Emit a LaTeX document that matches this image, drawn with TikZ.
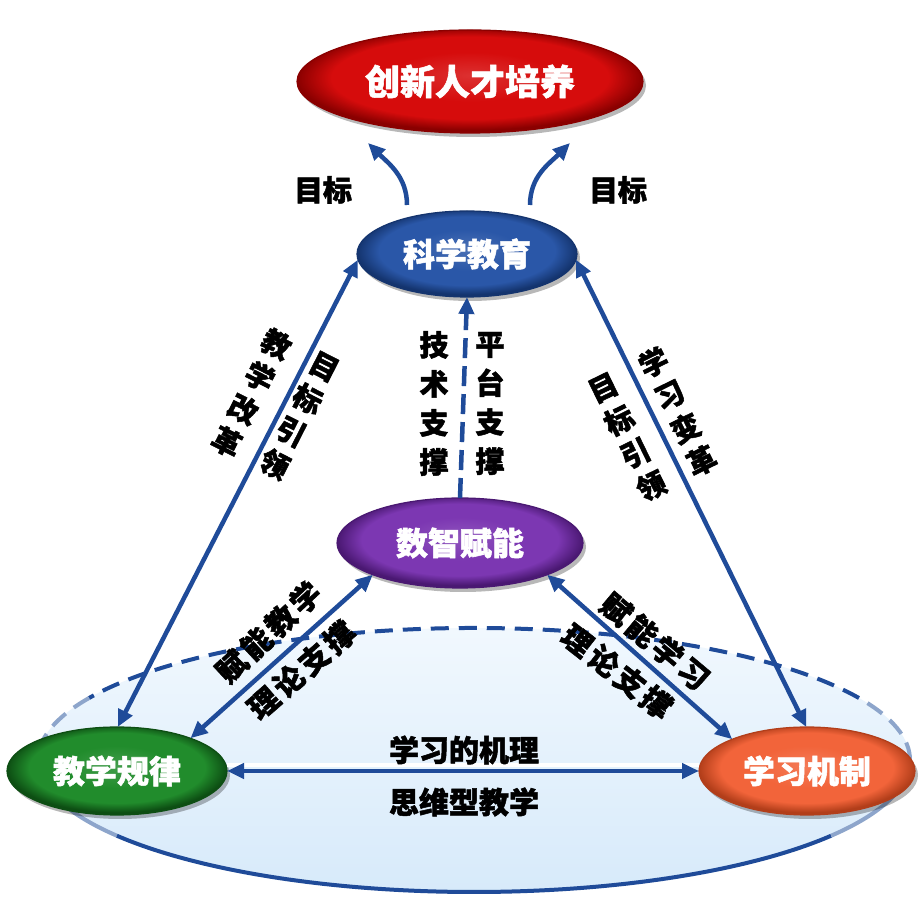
\documentclass[tikz,border=0pt]{standalone}
\usepackage{fontspec}
\setmainfont{Noto Sans CJK SC}[BoldFeatures={FakeBold=1.6}]
\usetikzlibrary{arrows.meta,shapes.geometric,shadows}

\definecolor{redM}{HTML}{D60C0C}
\definecolor{redD}{HTML}{8A0000}
\definecolor{blueM}{HTML}{2A57A8}
\definecolor{blueD}{HTML}{14346E}
\definecolor{purM}{HTML}{7C37B2}
\definecolor{purD}{HTML}{4A1872}
\definecolor{grnM}{HTML}{218C2C}
\definecolor{grnD}{HTML}{0D4E13}
\definecolor{orgM}{HTML}{F2643A}
\definecolor{orgD}{HTML}{B23E1A}
\definecolor{arrC}{HTML}{1F4B99}
\definecolor{rimL}{HTML}{8DA5CB}
\definecolor{baseT}{HTML}{F1F8FE}
\definecolor{baseB}{HTML}{D7EAFA}

\pgfdeclareradialshading{shRed}{\pgfpoint{0bp}{3bp}}{color(0bp)=(redM!85!white); color(12bp)=(redM); color(20bp)=(redM); color(25bp)=(redD); color(50bp)=(redD)}
\pgfdeclareradialshading{shBlue}{\pgfpoint{0bp}{3bp}}{color(0bp)=(blueM!85!white); color(12bp)=(blueM); color(20bp)=(blueM); color(25bp)=(blueD); color(50bp)=(blueD)}
\pgfdeclareradialshading{shPur}{\pgfpoint{0bp}{3bp}}{color(0bp)=(purM!85!white); color(12bp)=(purM); color(20bp)=(purM); color(25bp)=(purD); color(50bp)=(purD)}
\pgfdeclareradialshading{shGrn}{\pgfpoint{0bp}{3bp}}{color(0bp)=(grnM!85!white); color(12bp)=(grnM); color(20bp)=(grnM); color(25bp)=(grnD); color(50bp)=(grnD)}
\pgfdeclareradialshading{shOrg}{\pgfpoint{0bp}{3bp}}{color(0bp)=(orgM!85!white); color(12bp)=(orgM); color(20bp)=(orgM); color(25bp)=(orgD); color(50bp)=(orgD)}

\newcommand\lsp{\hspace{3.5pt}}

\tikzset{
  oval/.style={ellipse, inner sep=0pt, outer sep=0pt, text=white, line width=1.2pt,
    font=\bfseries\fontsize{32}{38}\selectfont,
    drop shadow={shadow xshift=3pt, shadow yshift=-4pt, fill=black, opacity=0.28}},
  myhead/.tip={Triangle[length=17pt,width=15pt]},
  conn/.style={draw=arrC, line width=4.5pt, myhead-myhead},
  sconn/.style={draw=arrC, line width=4.5pt, -myhead},
  dconn/.style={draw=arrC, line width=4.5pt, -myhead, dash pattern=on 20pt off 8pt},
  lab/.style={font=\bfseries\fontsize{29}{36}\selectfont, text=black, inner sep=0pt, align=center},
  collab/.style={font=\bfseries\fontsize{29}{39}\selectfont, text=black, inner sep=0pt, align=center},
  col2/.style={font=\bfseries\fontsize{29}{36.5}\selectfont, text=black, inner sep=0pt, align=center},
  dlab/.style={font=\bfseries\fontsize{30}{36}\selectfont, text=black, inner sep=0pt},
  rimdash/.style={line width=4pt, dash pattern=on 18pt off 10pt},
}

\begin{document}
\begin{tikzpicture}[x=1pt,y=1pt]
\useasboundingbox (0,0) rectangle (924,902);
\fill[white] (0,0) rectangle (924,902);

% base ellipse
\path[top color=baseT, bottom color=baseB] (474,142) ellipse [x radius=436, y radius=132];
\draw[rimdash, draw=arrC] (474,142) ++(28:436 and 132) arc [start angle=28, end angle=152, x radius=436, y radius=132];
\draw[rimdash, draw=rimL] (474,142) ++(0:436 and 132) arc [start angle=0, end angle=28, x radius=436, y radius=132];
\draw[rimdash, draw=rimL] (474,142) ++(152:436 and 132) arc [start angle=152, end angle=180, x radius=436, y radius=132];
\draw[line width=4pt, draw=rimL] (474,142) ++(180:436 and 132) arc [start angle=180, end angle=215, x radius=436, y radius=132];
\draw[line width=4pt, draw=arrC] (474,142) ++(215:436 and 132) arc [start angle=215, end angle=325, x radius=436, y radius=132];
\draw[line width=4pt, draw=rimL] (474,142) ++(325:436 and 132) arc [start angle=325, end angle=360, x radius=436, y radius=132];

% main nodes
\node[oval, shade, shading=shRed, draw=redD, minimum width=346pt, minimum height=103pt,
  font=\bfseries\fontsize{35}{40}\selectfont] (goal) at (470,820.5) {创新人才培养};
\node[oval, shade, shading=shBlue, draw=blueD, minimum width=220pt, minimum height=86pt] (blue) at (467,648) {科学教育};
\node[oval, shade, shading=shPur, draw=purD, minimum width=246pt, minimum height=90pt] (purple) at (460,359) {数智赋能};
\node[oval, shade, shading=shGrn, draw=grnD, minimum width=220pt, minimum height=88pt] (green) at (117,131) {教学规律};
\node[oval, shade, shading=shOrg, draw=orgD, minimum width=216pt, minimum height=88pt] (orange) at (807,131) {学习机制};

% connectors
\draw[conn] (blue.183) -- (green.89);
\draw[conn] (blue.-3) -- (orange.91);
\draw[conn] (purple.200) -- (green.24);
\draw[conn] (purple.340) -- (orange.157);
\draw[white, line width=4pt] ([yshift=6pt]green.east) -- ([yshift=6pt]orange.west);
\draw[conn] (green.east) -- (orange.west);
\draw[dconn] (purple.north) -- (blue.south);

\coordinate (gl0) at (407,697);
\coordinate (gl1) at (368,759);
\coordinate (gr0) at (530,697);
\coordinate (gr1) at (570,759);
\draw[sconn] (gl0) to[out=90, in=-45] (gl1);
\draw[sconn] (gr0) to[out=90, in=225] (gr1);

% labels
\node[lab] (mbL) at (323,712) {目标};
\node[lab] (mbR) at (618,712) {目标};

\node[collab] (jszc) at (434,498.5) {技\\术\\支\\撑};
\node[collab] (ptzc) at (490,498.5) {平\\台\\支\\撑};

\node[col2, rotate=-27] (jxgg) at (251.5,509) {教\\学\\改\\革};
\node[col2, rotate=-27] (mbylL) at (299,486) {目\\标\\引\\领};
\node[col2, rotate=26] (xxbg) at (677.5,490.5) {学\\习\\变\\革};
\node[col2, rotate=26] (mbylR) at (627.5,464.5) {目\\标\\引\\领};

\node[dlab, rotate=43] (fnjx) at (268.5,270) {赋\lsp 能\lsp 教\lsp 学};
\node[dlab, rotate=41] (llzcL) at (301.5,232) {理\lsp 论\lsp 支\lsp 撑};
\node[dlab, rotate=-40] (fnxx) at (655,260.5) {赋\lsp 能\lsp 学\lsp 习};
\node[dlab, rotate=-38] (llzcR) at (617,230.5) {理\lsp 论\lsp 支\lsp 撑};

\node[lab, font=\bfseries\fontsize{30}{36}\selectfont] (xxjl) at (464,152) {学习的机理};
\node[lab, font=\bfseries\fontsize{30}{36}\selectfont] (swjx) at (464,100) {思维型教学};
\end{tikzpicture}
\end{document}
